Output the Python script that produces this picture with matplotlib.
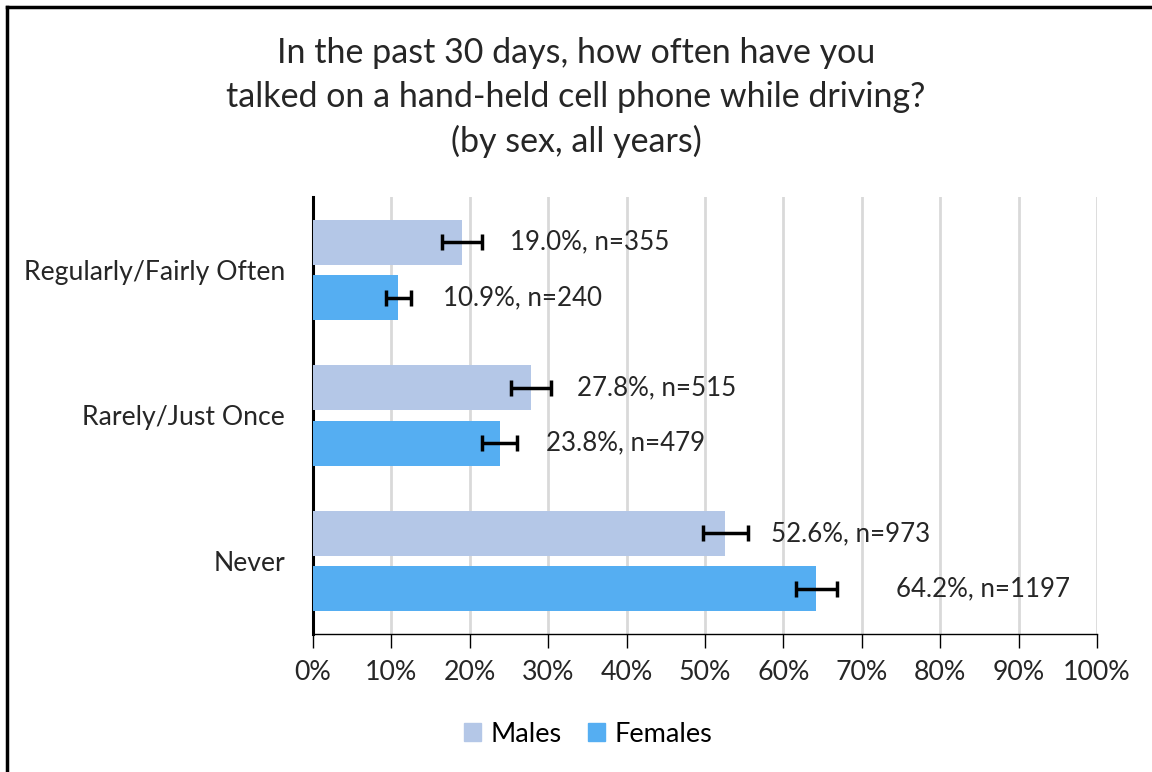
import matplotlib.pyplot as plt
from matplotlib.lines import Line2D
from matplotlib.patches import Patch

plt.rcParams['font.family'] = ['Lato', 'DejaVu Sans']

categories = ['Regularly/Fairly Often', 'Rarely/Just Once', 'Never']
males = [19.0, 27.8, 52.6]
females = [10.9, 23.8, 64.2]
males_err = [2.5, 2.5, 2.9]
females_err = [1.6, 2.2, 2.6]
males_n = [355, 515, 973]
females_n = [240, 479, 1197]

# where the data labels start (in % units), as placed in the original
males_label_x = [25.1, 33.7, 58.4]
females_label_x = [16.6, 29.7, 74.3]

male_color = '#B4C7E7'
female_color = '#55AEF2'

fig = plt.figure(figsize=(11.52, 7.72), dpi=100)
ax = fig.add_axes([0.2717, 0.1788, 0.6806, 0.566])

ypos = list(range(len(categories)))
off = 0.19
h = 0.31
ym = [y - off for y in ypos]
yf = [y + off for y in ypos]

err_kw = dict(ecolor='black', elinewidth=2.5, capsize=6, capthick=2.5)
ax.barh(ym, males, height=h, color=male_color, xerr=males_err, error_kw=err_kw,
        label='Males', zorder=3)
ax.barh(yf, females, height=h, color=female_color, xerr=females_err, error_kw=err_kw,
        label='Females', zorder=3)

for y, v, n, lx in zip(ym, males, males_n, males_label_x):
    ax.text(lx, y, f'{v:.1f}%, n={n}', va='center', ha='left', fontsize=18.6, color='#262626')
for y, v, n, lx in zip(yf, females, females_n, females_label_x):
    ax.text(lx, y, f'{v:.1f}%, n={n}', va='center', ha='left', fontsize=18.6, color='#262626')

ax.set_xlim(0, 100)
ax.set_ylim(2.5, -0.5)
ax.set_xticks(range(0, 101, 10))
ax.set_xticklabels([f'{t}%' for t in range(0, 101, 10)], fontsize=19.3, color='#262626')
ax.set_yticks(ypos)
ax.set_yticklabels(categories, fontsize=19.2, color='#262626')
ax.tick_params(axis='y', length=0, pad=20)
ax.tick_params(axis='x', length=10, width=1, direction='out', pad=9)

ax.grid(axis='x', color='#D9D9D9', linewidth=2, zorder=0)
ax.set_axisbelow(True)
for s in ['top', 'right']:
    ax.spines[s].set_visible(False)
ax.spines['left'].set_linewidth(2.2)
ax.spines['bottom'].set_linewidth(1)

fig.text(0.5, 0.952, 'In the past 30 days, how often have you\ntalked on a hand-held cell phone while driving?\n(by sex, all years)',
         ha='center', va='top', fontsize=24.5, color='#262626', linespacing=1.45)

handles = [Patch(color=male_color), Patch(color=female_color)]
fig.legend(handles, ['Males', 'Females'], loc='center', bbox_to_anchor=(0.5105, 0.049),
           ncol=2, frameon=False, fontsize=19.5, handlelength=0.65, handleheight=0.65,
           handletextpad=0.35, columnspacing=0.95)

# frame lines along the top and left edges
fig.add_artist(Line2D([0.0065, 1.0], [0.9905, 0.9905], color='black', linewidth=2.5))
fig.add_artist(Line2D([0.0065, 0.0065], [0.0, 0.9905], color='black', linewidth=2.5))

fig.savefig('out.png', dpi=100)
